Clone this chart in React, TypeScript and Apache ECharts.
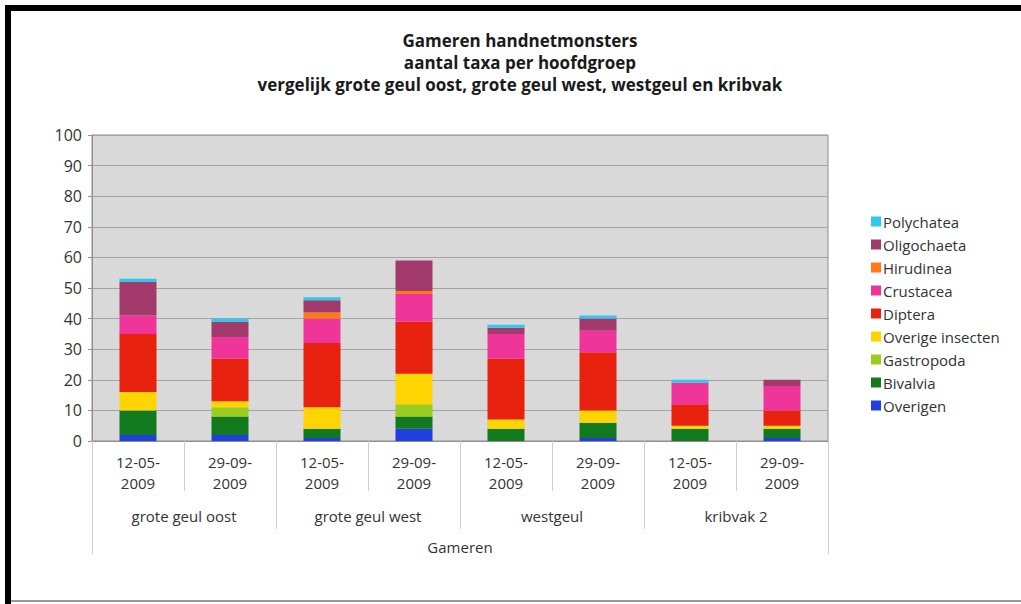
import React, { useEffect, useRef } from "react";
import * as echarts from "echarts";

const titleLines = [
  "Gameren handnetmonsters",
  "aantal taxa per hoofdgroep",
  "vergelijk grote geul oost, grote geul west, westgeul en kribvak",
];
const dates = ["12-05-\n2009", "29-09-\n2009", "12-05-\n2009", "29-09-\n2009", "12-05-\n2009", "29-09-\n2009", "12-05-\n2009", "29-09-\n2009"];
const locations = ["grote geul oost", "grote geul west", "westgeul", "kribvak 2"];
const area = ["Gameren"];
const yTicks = { min: 0, max: 100, interval: 10 };

const overigen = [2, 2, 1, 4, 0, 1, 0, 1];
const bivalvia = [8, 6, 3, 4, 4, 5, 4, 3];
const gastropoda = [0, 3, 0, 4, 0, 0, 0, 0];
const overigeInsecten = [6, 2, 7, 10, 3, 4, 1, 1];
const diptera = [19, 14, 21, 17, 20, 19, 7, 5];
const crustacea = [6, 7, 8, 9, 8, 7, 7, 8];
const hirudinea = [0, 0, 2, 1, 0, 0, 0, 0];
const oligochaeta = [11, 5, 4, 10, 2, 4, 0, 2];
const polychatea = [1, 1, 1, 0, 1, 1, 1, 0];

const seriesDefs = [
  { name: "Overigen", data: overigen, color: "#1f3fe0" },
  { name: "Bivalvia", data: bivalvia, color: "#127a1e" },
  { name: "Gastropoda", data: gastropoda, color: "#9acd1e" },
  { name: "Overige insecten", data: overigeInsecten, color: "#ffd400" },
  { name: "Diptera", data: diptera, color: "#e8220f" },
  { name: "Crustacea", data: crustacea, color: "#f0359a" },
  { name: "Hirudinea", data: hirudinea, color: "#ff7a14" },
  { name: "Oligochaeta", data: oligochaeta, color: "#a23a6c" },
  { name: "Polychatea", data: polychatea, color: "#2ec8ee" },
];

const FONT = "Open Sans";

export default function App() {
  const ref = useRef<HTMLDivElement>(null);
  useEffect(() => {
    if (!ref.current) return;
    const chart = echarts.init(ref.current, null, { renderer: "svg" });
    const sepColor = "#cfcfcf";
    chart.setOption({
      animation: false,
      backgroundColor: "#ffffff",
      textStyle: { fontFamily: FONT },
      grid: {
        left: 92,
        right: 193,
        top: 135,
        bottom: 163,
        show: true,
        backgroundColor: "#d9d9d9",
        borderColor: "#8f8f8f",
        borderWidth: 1,
      },
      legend: {
        orient: "vertical",
        left: 866,
        top: 209,
        itemWidth: 10,
        itemHeight: 10,
        itemGap: 8,
        icon: "rect",
        data: seriesDefs.map((s) => s.name).reverse(),
        textStyle: { fontFamily: FONT, fontSize: 15, color: "#333", lineHeight: 15, padding: [0, 0, 0, -3] },
      },
      xAxis: [
        {
          type: "category",
          gridIndex: 0,
          position: "bottom",
          data: dates,
          axisLine: { show: true, lineStyle: { color: "#8f8f8f" } },
          axisTick: { show: true, length: 50, interval: 0, lineStyle: { color: sepColor } },
          axisLabel: { interval: 0, margin: 10, fontSize: 15, lineHeight: 21, color: "#333", fontFamily: FONT },
        },
        {
          type: "category",
          gridIndex: 0,
          position: "bottom",
          data: locations,
          axisLine: { show: false },
          axisTick: { show: true, length: 88, interval: 0, lineStyle: { color: sepColor } },
          axisLabel: { interval: 0, margin: 67, fontSize: 15, color: "#333", fontFamily: FONT },
        },
        {
          type: "category",
          gridIndex: 0,
          position: "bottom",
          data: area,
          axisLine: { show: false },
          axisTick: { show: true, length: 113, interval: 0, lineStyle: { color: sepColor } },
          axisLabel: { interval: 0, margin: 98, fontSize: 15, color: "#333", fontFamily: FONT },
        },
      ],
      yAxis: {
        type: "value",
        min: yTicks.min,
        max: yTicks.max,
        interval: yTicks.interval,
        axisLine: { show: true, lineStyle: { color: "#8f8f8f" } },
        axisTick: { show: true, length: 4, lineStyle: { color: "#8f8f8f" } },
        axisLabel: { margin: 10, fontSize: 16, color: "#333", fontFamily: FONT },
        splitLine: { show: true, lineStyle: { color: "#a3a3a3", width: 1 } },
      },
      series: seriesDefs.map((s) => ({
        name: s.name,
        type: "bar",
        stack: "total",
        xAxisIndex: 0,
        barWidth: 37,
        data: s.data,
        itemStyle: { color: s.color },
      })),
      graphic: [
        {
          type: "text",
          x: 520,
          y: 29,
          style: {
            text: titleLines.join("\n"),
            align: "center",
            verticalAlign: "top",
            fontFamily: FONT,
            fontWeight: "bold",
            fontSize: 17,
            lineHeight: 22,
            fill: "#1a1a1a",
          },
        },
        { type: "rect", shape: { x: 5, y: 5, width: 1016, height: 6 }, style: { fill: "#000" } },
        { type: "rect", shape: { x: 5, y: 5, width: 6, height: 599 }, style: { fill: "#000" } },
        { type: "rect", shape: { x: 11, y: 600, width: 1010, height: 2 }, style: { fill: "#9a9a9a" } },
      ],
    });
    return () => chart.dispose();
  }, []);
  return <div ref={ref} style={{ position: "absolute", left: 0, top: 0, width: 1021, height: 604 }} />;
}
